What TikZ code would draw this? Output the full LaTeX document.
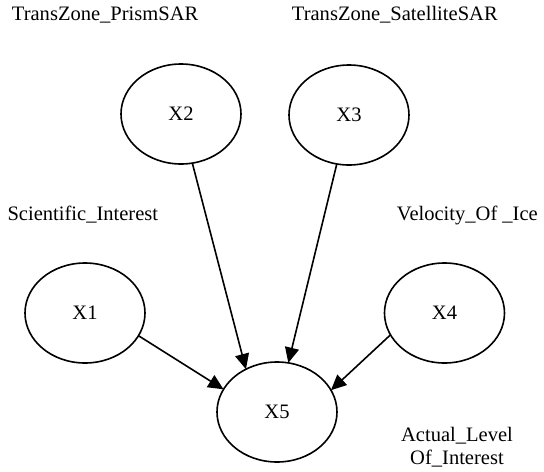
\documentclass[tikz,border=0pt]{standalone}
\usepackage{fontspec}
\setmainfont{Liberation Serif}
\usetikzlibrary{shapes.geometric,arrows.meta}

\tikzset{
  varnode/.style={draw,ellipse,line width=1.2pt,minimum width=90pt,minimum height=75pt,inner sep=0pt,outer sep=0pt,font=\fontsize{15.4}{17.3}\selectfont},
  lbl/.style={inner sep=0pt,font=\fontsize{15.4}{17.3}\selectfont},
  link/.style={line width=1.2pt,-{Triangle[length=11.5pt,width=10.5pt]}}
}

\begin{document}
\begin{tikzpicture}[x=0.75pt,y=0.75pt,yscale=-1,xscale=1]
\useasboundingbox (0,0) rectangle (544,472);

% Ellipse Nodes
\draw (85,313) node [varnode] (X1) {X1};
\draw (181,114) node [varnode] (X2) {X2};
\draw (349,115) node [varnode] (X3) {X3};
\draw (444.5,313) node [varnode] (X4) {X4};
\draw (277,412) node [varnode] (X5) {X5};

% Text Node
\draw (11.7,20.7) node [anchor=base west][lbl] (lblPrism) {TransZone\_PrismSAR};
% Text Node
\draw (291.7,20.7) node [anchor=base west][lbl] (lblSat) {TransZone\_SatelliteSAR};
% Text Node
\draw (7.3,220.7) node [anchor=base west][lbl] (lblSci) {Scientific\_Interest};
% Text Node
\draw (396.7,220.3) node [anchor=base west][lbl] (lblVel) {Velocity\_Of \_Ice};
% Text Node
\draw (457,427) node [anchor=north][lbl,align=center] (lblAct) {Actual\_Level\\Of\_Interest};

% Connection
\draw [link] (X2.283.4) -- (X5.126.9);
% Connection
\draw [link] (X3.256.2) -- (X5.77.7);
% Connection
\draw [link] (X1.337.9) -- (X5.157.2);
% Connection
\draw [link] (X4.202.2) -- (X5.22.9);

\end{tikzpicture}
\end{document}
